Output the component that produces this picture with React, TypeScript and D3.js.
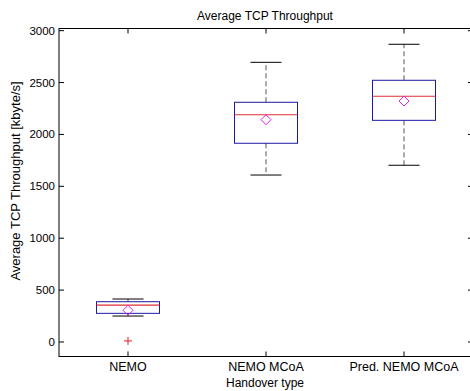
import React from 'react';
import * as d3 from 'd3';

const categories = ['NEMO', 'NEMO MCoA', 'Pred. NEMO MCoA'];
const q1 = [276, 1915, 2136];
const median = [356, 2190, 2368];
const q3 = [388, 2310, 2522];
const whiskerLow = [250, 1609, 1703];
const whiskerHigh = [414, 2695, 2869];
const means = [305, 2142, 2322];
const outliers = [{ cat: 0, value: 10 }];
const yTicks = [0, 500, 1000, 1500, 2000, 2500, 3000];

const W = 470, H = 391;
const left = 59, top = 28.5, bottom = 356.5, right = 473;
const font = 'Arial, "Liberation Sans", sans-serif';

export default function App() {
  const x = d3.scaleLinear().domain([0.5, 3.5]).range([left, right]);
  const y = d3.scaleLinear().domain([-140, 3021]).range([bottom, top]);
  const boxW = 63, capW = 31, tick = 5;

  return (
    <svg width={W} height={H} style={{ position: 'absolute', left: 0, top: 0, background: '#fff' }}>
      <text x={265} y={20} textAnchor="middle" fontFamily={font} fontSize={12}>Average TCP Throughput</text>
      <rect x={left} y={top} width={right - left} height={bottom - top} fill="#fff" stroke="#000" strokeWidth={1} />
      {yTicks.map(t => (
        <g key={t}>
          <line x1={left} x2={left + tick} y1={y(t)} y2={y(t)} stroke="#000" />
          <line x1={right} x2={right - tick} y1={y(t)} y2={y(t)} stroke="#000" />
          <text x={left - 4} y={y(t) + 4} textAnchor="end" fontFamily={font} fontSize={11.5}>{t}</text>
        </g>
      ))}
      {categories.map((c, i) => (
        <g key={c}>
          <line x1={x(i + 1)} x2={x(i + 1)} y1={bottom} y2={bottom - tick} stroke="#000" />
          <line x1={x(i + 1)} x2={x(i + 1)} y1={top} y2={top + tick} stroke="#000" />
          <text x={x(i + 1)} y={371} textAnchor="middle" fontFamily={font} fontSize={12.5}>{c}</text>
        </g>
      ))}
      <text x={265} y={387} textAnchor="middle" fontFamily={font} fontSize={12}>Handover type</text>
      <text transform={`translate(20,181) rotate(-90)`} textAnchor="middle" fontFamily={font} fontSize={13}>Average TCP Throughput [kbyte/s]</text>
      {categories.map((c, i) => {
        const cx = x(i + 1);
        return (
          <g key={'b' + c}>
            <line x1={cx} x2={cx} y1={y(q3[i])} y2={y(whiskerHigh[i])} stroke="#555" strokeDasharray="5,3" />
            <line x1={cx} x2={cx} y1={y(q1[i])} y2={y(whiskerLow[i])} stroke="#555" strokeDasharray="5,3" />
            <line x1={cx - capW / 2} x2={cx + capW / 2} y1={y(whiskerHigh[i])} y2={y(whiskerHigh[i])} stroke="#000" />
            <line x1={cx - capW / 2} x2={cx + capW / 2} y1={y(whiskerLow[i])} y2={y(whiskerLow[i])} stroke="#000" />
            <rect x={cx - boxW / 2} y={y(q3[i])} width={boxW} height={y(q1[i]) - y(q3[i])} fill="none" stroke="#1a1aa0" />
            <line x1={cx - boxW / 2} x2={cx + boxW / 2} y1={y(median[i])} y2={y(median[i])} stroke="#e03030" strokeWidth={1.2} />
            <path d={`M${cx},${y(means[i]) - 5}L${cx + 5},${y(means[i])}L${cx},${y(means[i]) + 5}L${cx - 5},${y(means[i])}Z`} fill="none" stroke="#e020e0" />
          </g>
        );
      })}
      {outliers.map((o, k) => {
        const cx = x(o.cat + 1), cy = y(o.value);
        return (
          <g key={'o' + k} stroke="#e02020">
            <line x1={cx - 4} x2={cx + 4} y1={cy} y2={cy} />
            <line x1={cx} x2={cx} y1={cy - 4} y2={cy + 4} />
          </g>
        );
      })}
    </svg>
  );
}
